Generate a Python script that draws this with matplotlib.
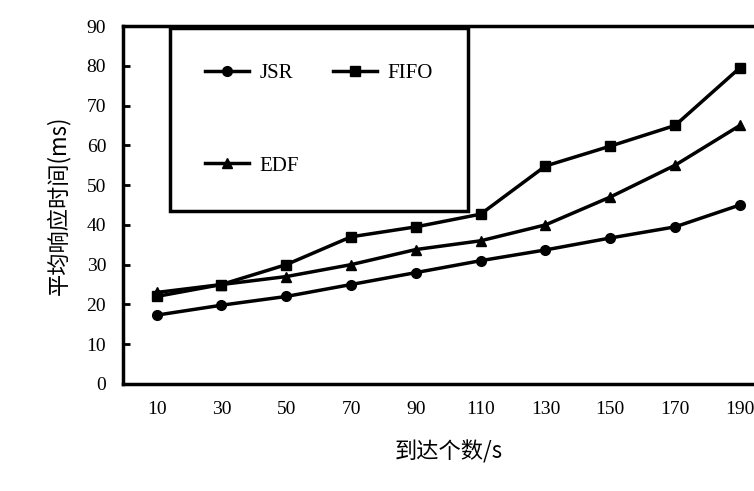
import numpy as np
import matplotlib
matplotlib.use('Agg')
import matplotlib.pyplot as plt
import matplotlib as mpl

mpl.rcParams['font.family'] = ['Liberation Serif', 'Noto Sans CJK SC']
mpl.rcParams['lines.linewidth'] = 2.5
mpl.rcParams['lines.markersize'] = 7

# data
arrivals = ['10', '30', '50', '70', '90', '110', '130', '150', '170', '190']
jsr = [17.3, 19.8, 22, 25, 28, 31, 33.7, 36.7, 39.5, 45]
fifo = [22, 25, 30, 37, 39.5, 42.7, 54.8, 59.8, 65, 79.5]
edf = [23, 25, 27, 30, 33.8, 36, 40, 47, 55, 65]

x = np.arange(len(arrivals))

fig = plt.figure(figsize=(7.54, 4.91), dpi=100)
ax = fig.add_axes([0.163, 0.218, 0.863, 0.729])

l1, = ax.plot(x, jsr, color='black', marker='o', label='JSR')
l2, = ax.plot(x, fifo, color='black', marker='s', label='FIFO')
l3, = ax.plot(x, edf, color='black', marker='^', label='EDF')

ax.set_xlim(-0.52, len(arrivals) - 1 + 0.52)
ax.set_ylim(0, 90)
ax.set_yticks(np.arange(0, 91, 10))
ax.set_xticks(x)
ax.set_xticklabels(arrivals)
ax.tick_params(axis='y', direction='in', length=5, width=2, labelsize=14, pad=12)
ax.tick_params(axis='x', length=0, labelsize=14, pad=12)
for s in ax.spines.values():
    s.set_linewidth(2.5)

ax.set_xlabel('到达个数/s', fontsize=16, labelpad=16,
              family=['Noto Sans CJK SC', 'Liberation Serif'])
ax.set_ylabel('平均响应时间(ms)', fontsize=16, labelpad=12,
              family=['Noto Sans CJK SC', 'Liberation Serif'])

# column-major fill: JSR/EDF in first column, FIFO in second
leg = ax.legend([l1, l3, l2], ['JSR', 'EDF', 'FIFO'], ncol=2, loc='upper left',
                bbox_to_anchor=(0.072, 0.486, 0.458, 0.508),
                mode='expand', fancybox=False, fontsize=15, handlelength=2.1,
                labelspacing=3.5, borderpad=1.7, columnspacing=1.0, handletextpad=0.5,
                borderaxespad=0)
leg.get_frame().set_edgecolor('black')
leg.get_frame().set_linewidth(2.5)
leg.get_frame().set_alpha(1)

plt.savefig('out.png', dpi=100)
